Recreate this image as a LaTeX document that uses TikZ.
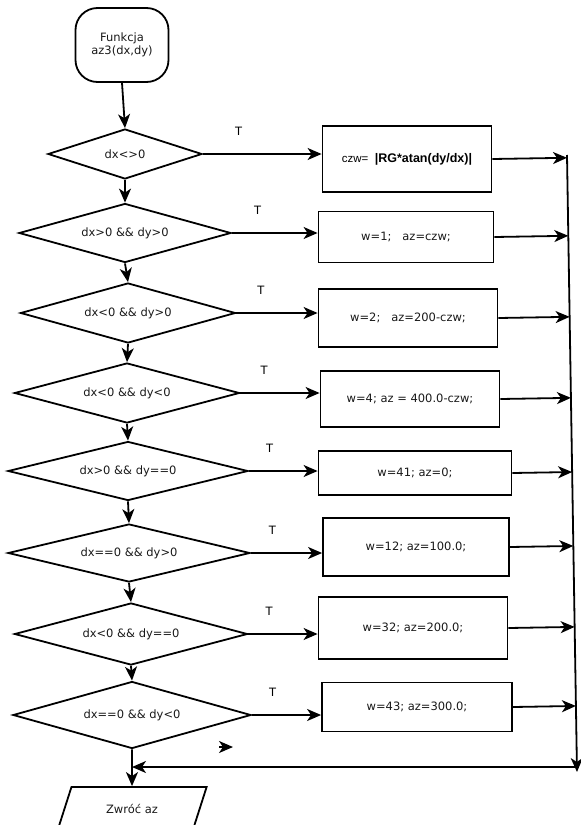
\documentclass[tikz,border=0pt]{standalone}
\usepackage{fontspec}
\setmainfont{DejaVu Sans}
\newfontfamily\arialfont{Liberation Sans}
\usetikzlibrary{shapes.geometric, arrows.meta, calc}

\begin{document}
\begin{tikzpicture}[x=1pt, y=-1pt, >={Stealth[length=14pt, width=12pt, inset=4pt]},
  font=\fontsize{11.5}{13.5}\selectfont,
  decision/.style={diamond, draw, line width=1.8pt, inner sep=0pt, aspect=4, text=black!90},
  action/.style={rectangle, draw, line width=1.8pt, inner sep=0pt, text=black!90},
  terminal/.style={rectangle, rounded corners=22pt, draw, line width=1.8pt, align=center, text=black!90},
  io/.style={trapezium, trapezium left angle=67, trapezium right angle=113, trapezium stretches=true, draw, line width=1.8pt, text=black!90}]
\useasboundingbox (0,0) rectangle (581,825);
\clip (0,0) rectangle (581,825);

% start and end
\node[terminal, minimum width=93pt, minimum height=74pt] (start) at (122,45) {Funkcja\\az3(dx,dy)};
\node[io, minimum width=150pt, minimum height=44pt] (ret) at (132,809) {Zwróć az};

% conditions
\node[decision, minimum width=154pt, minimum height=50pt] (d1) at (125,154) {dx<>0};
\node[decision, minimum width=212pt, minimum height=59pt] (d2) at (125,233) {dx>0 \&\& dy>0};
\node[decision, minimum width=215pt, minimum height=60pt] (d3) at (128,313) {dx<0 \&\& dy>0};
\node[decision, minimum width=225pt, minimum height=60pt] (d4) at (127,393) {dx<0 \&\& dy<0};
\node[decision, minimum width=240pt, minimum height=59pt] (d5) at (128,471) {dx>0 \&\& dy==0};
\node[decision, minimum width=242pt, minimum height=58pt] (d6) at (129,553) {dx==0 \&\& dy>0};
\node[decision, minimum width=233pt, minimum height=62pt] (d7) at (131,634) {dx<0 \&\& dy==0};
\node[decision, minimum width=238pt, minimum height=67pt] (d8) at (132,715) {dx==0 \&\& dy<0};

% assignments
\node[action, minimum width=169pt, minimum height=66pt, text=black] (b1) at (407,159)
  {\arialfont czw=~~{\bfseries\fontsize{12.5}{14}\selectfont |RG*atan(dy/dx)|}};
\node[action, minimum width=175pt, minimum height=51pt] (b2) at (406,237) {w=1;~~~az=czw;};
\node[action, minimum width=179pt, minimum height=58pt] (b3) at (408,318) {w=2;~~~az=200-czw;};
\node[action, minimum width=179pt, minimum height=56pt] (b4) at (410,399) {w=4; az = 400.0-czw;};
\node[action, minimum width=193pt, minimum height=44pt] (b5) at (415,473) {w=41; az=0;};
\node[action, minimum width=186pt, minimum height=58pt] (b6) at (416,547) {w=12; az=100.0;};
\node[action, minimum width=189pt, minimum height=62pt] (b7) at (413,628) {w=32; az=200.0;};
\node[action, minimum width=190pt, minimum height=49pt] (b8) at (417,707) {w=43; az=300.0;};

\coordinate (mtop) at (567,155);
\coordinate (mbot) at (577,772);
\coordinate (join) at (132,767);
\coordinate (stray) at (233,747);

% main line
\draw[line width=1.8pt, ->] (start.south) -- (d1.north);
\draw[line width=1.8pt, ->] (d1.south) -- (d2.north);
\draw[line width=1.8pt, ->] (d2.south) -- (d3.north);
\draw[line width=1.8pt, ->] (d3.south) -- (d4.north);
\draw[line width=1.8pt, ->] (d4.south) -- (d5.north);
\draw[line width=1.8pt, ->] (d5.south) -- (d6.north);
\draw[line width=1.8pt, ->] (d6.south) -- (d7.north);
\draw[line width=1.8pt, ->] (d7.south) -- (d8.north);
\draw[line width=1.8pt, ->] (d8.south) -- (ret.north);

% T branches
\draw[line width=1.8pt, ->] (d1.east) -- node[pos=0.3, above = 14pt] {T} (d1.east -| b1.west);
\draw[line width=1.8pt, ->] (d2.east) -- node[pos=0.3, above = 14pt] {T} (d2.east -| b2.west);
\draw[line width=1.8pt, ->] (d3.east) -- node[pos=0.3, above = 14pt] {T} (d3.east -| b3.west);
\draw[line width=1.8pt, ->] (d4.east) -- node[pos=0.3, above = 14pt] {T} (d4.east -| b4.west);
\draw[line width=1.8pt, ->] (d5.east) -- node[pos=0.3, above = 14pt] {T} (d5.east -| b5.west);
\draw[line width=1.8pt, ->] (d6.east) -- node[pos=0.3, above = 14pt] {T} (d6.east -| b6.west);
\draw[line width=1.8pt, ->] (d7.east) -- node[pos=0.3, above = 14pt] {T} (d7.east -| b7.west);
\draw[line width=1.8pt, ->] (d8.east) -- node[pos=0.3, above = 14pt] {T} (d8.east -| b8.west);

% back to the main line
\draw[line width=1.8pt, ->] (b1.east) -- ($(mtop)!(b1.east)!(mbot)$);
\draw[line width=1.8pt, ->] (b2.east) -- ($(mtop)!(b2.east)!(mbot)$);
\draw[line width=1.8pt, ->] (b3.east) -- ($(mtop)!(b3.east)!(mbot)$);
\draw[line width=1.8pt, ->] (b4.east) -- ($(mtop)!(b4.east)!(mbot)$);
\draw[line width=1.8pt, ->] (b5.east) -- ($(mtop)!(b5.east)!(mbot)$);
\draw[line width=1.8pt, ->] (b6.east) -- ($(mtop)!(b6.east)!(mbot)$);
\draw[line width=1.8pt, ->] (b7.east) -- ($(mtop)!(b7.east)!(mbot)$);
\draw[line width=1.8pt, ->] (b8.east) -- ($(mtop)!(b8.east)!(mbot)$);
\draw[line width=1.8pt, ->] (mtop) -- (mbot);
\draw[line width=1.8pt, ->] (mbot |- join) -- (join);
\draw[line width=1.8pt, ->] ([xshift=-14pt]stray) -- (stray);
\end{tikzpicture}
\end{document}
